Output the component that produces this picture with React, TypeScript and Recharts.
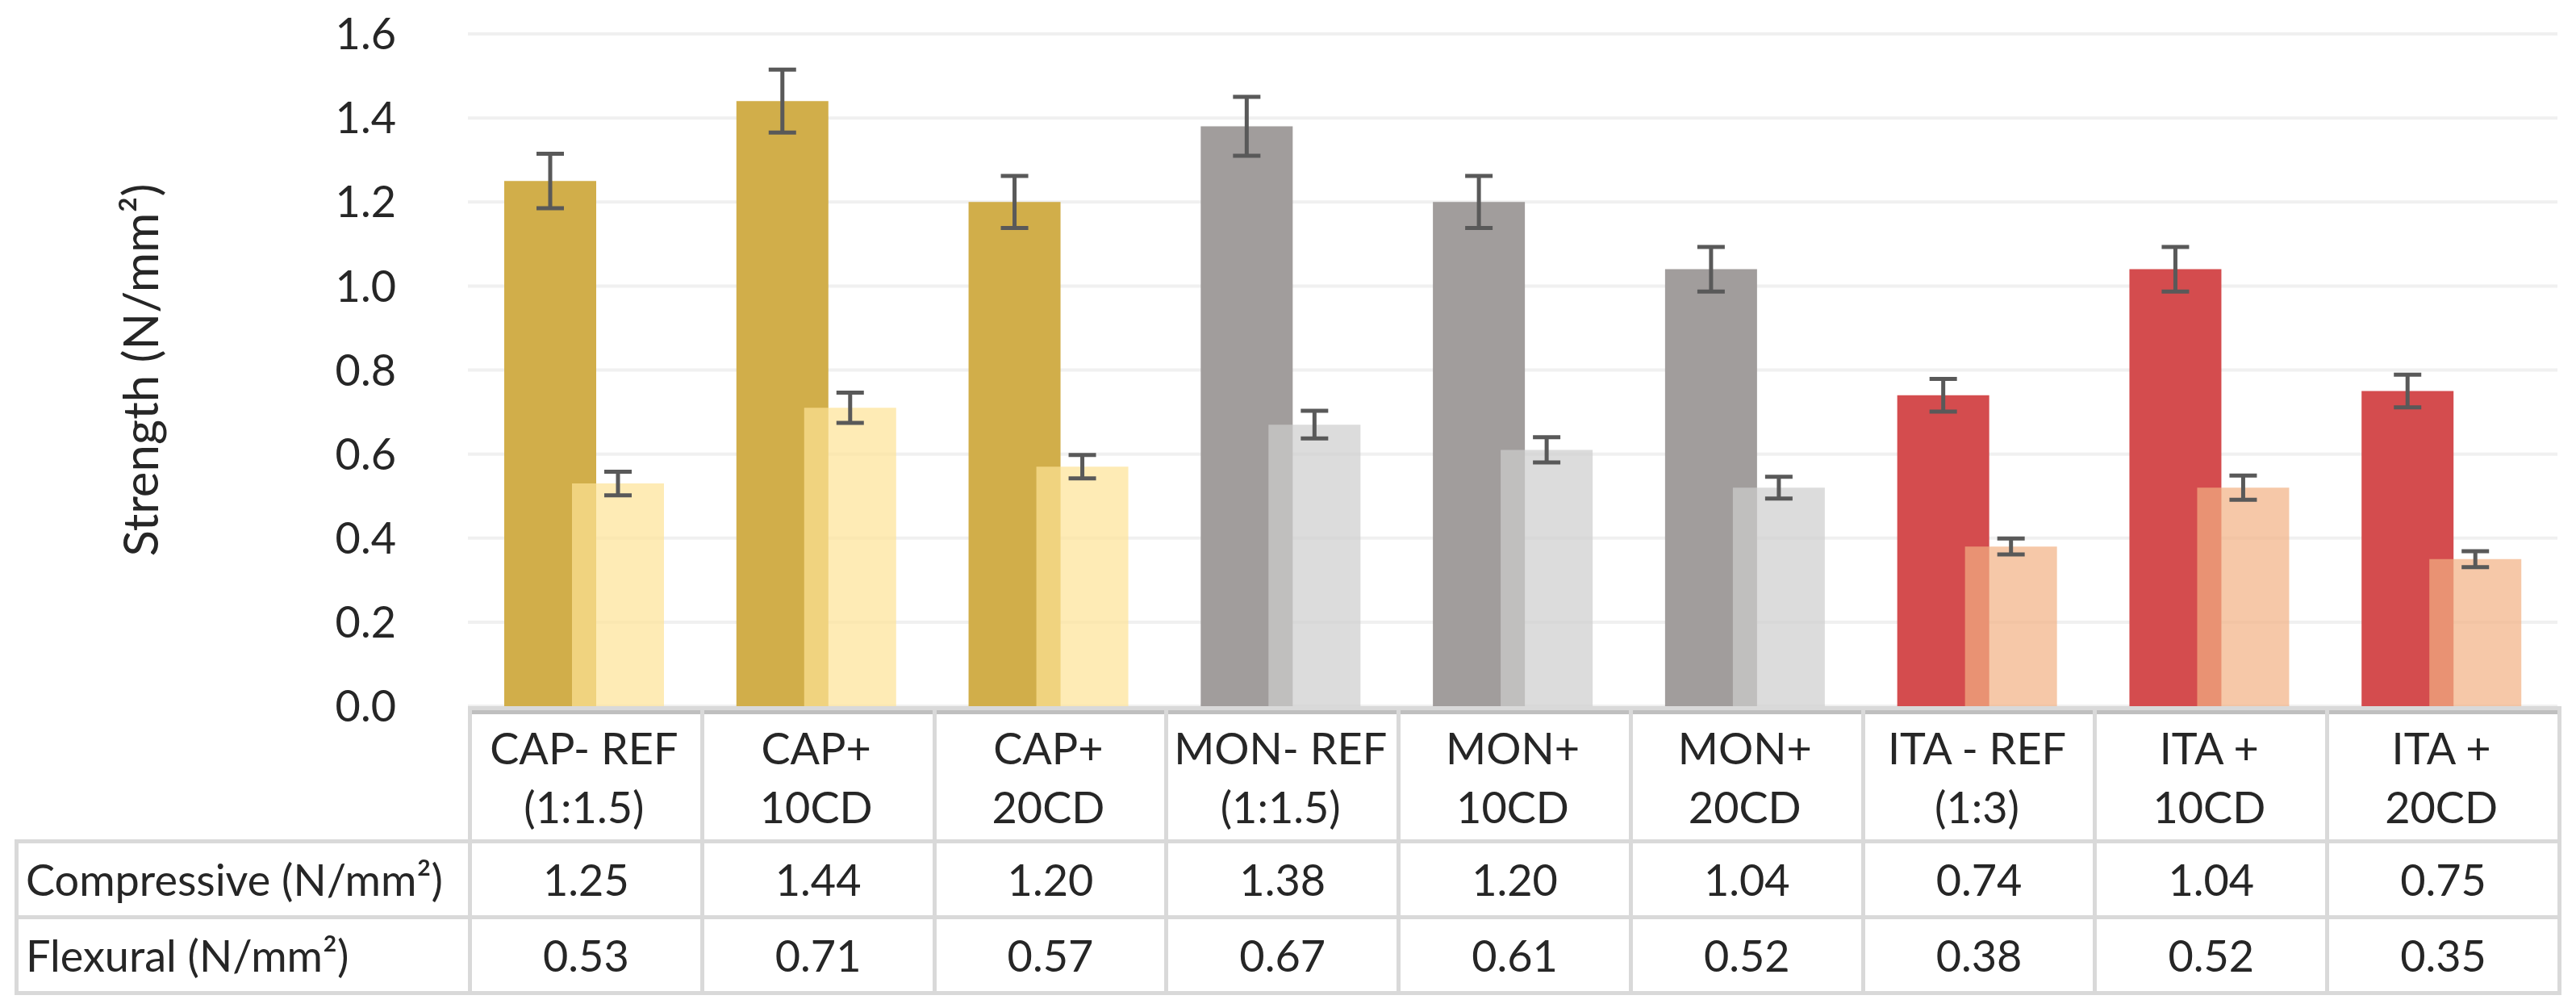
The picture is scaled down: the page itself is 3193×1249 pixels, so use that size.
import { BarChart, Bar, XAxis, YAxis, CartesianGrid, ErrorBar, Cell, Label } from 'recharts'

const categoryTop = ['CAP- REF', 'CAP+', 'CAP+', 'MON- REF', 'MON+', 'MON+', 'ITA - REF', 'ITA +', 'ITA +']
const categoryBottom = ['(1:1.5)', '10CD', '20CD', '(1:1.5)', '10CD', '20CD', '(1:3)', '10CD', '20CD']
const groups = ['CAP', 'CAP', 'CAP', 'MON', 'MON', 'MON', 'ITA', 'ITA', 'ITA']

const compressive = [1.25, 1.44, 1.2, 1.38, 1.2, 1.04, 0.74, 1.04, 0.75]
const flexural = [0.53, 0.71, 0.57, 0.67, 0.61, 0.52, 0.38, 0.52, 0.35]
const compressiveErr = [0.065, 0.075, 0.062, 0.07, 0.062, 0.053, 0.039, 0.053, 0.039]
const flexuralErr = [0.028, 0.036, 0.028, 0.033, 0.03, 0.026, 0.019, 0.029, 0.019]

const yTicks = [0, 0.2, 0.4, 0.6, 0.8, 1.0, 1.2, 1.4, 1.6]
const rowLabels = ['Compressive (N/mm²)', 'Flexural (N/mm²)']

const COMP_COLORS: Record<string, string> = { CAP: '#D1AE4A', MON: '#A19D9C', ITA: '#D44C4E' }
const FLEX_COLORS: Record<string, string> = { CAP: '#FEE295', MON: '#CDCDCD', ITA: '#F2B083' }

const W = 3193
const PLOT_LEFT = 580
const PLOT_RIGHT = 3170
const PLOT_TOP = 42
const PLOT_BOTTOM = 875
const CHART_PAD = 45
const HEADER_H = 165
const ROW_H = 94
const LABEL_LEFT = 18
const LINE = 5
const BORDER = '#D9D9D9'
const TEXT = '#262626'
const FONT = 54

const data = categoryTop.map((c, i) => ({
  name: `${c} ${categoryBottom[i]}`,
  group: groups[i],
  compressive: compressive[i],
  flexural: flexural[i],
  compErr: compressiveErr[i],
  flexErr: flexuralErr[i],
}))

function DataTable() {
  const pitch = (PLOT_RIGHT - PLOT_LEFT) / categoryTop.length
  const bottom = PLOT_BOTTOM + HEADER_H + ROW_H * 2
  const lines: JSX.Element[] = []

  // axis line under the plot
  lines.push(
    <div key="axis" style={{ position: 'absolute', left: PLOT_LEFT, top: PLOT_BOTTOM + LINE, width: PLOT_RIGHT - PLOT_LEFT, height: LINE, background: '#BFBFBF' }} />
  )
  lines.push(
    <div key="top" style={{ position: 'absolute', left: PLOT_LEFT, top: PLOT_BOTTOM, width: PLOT_RIGHT - PLOT_LEFT + LINE, height: LINE, background: BORDER }} />
  )
  ;[PLOT_BOTTOM + HEADER_H, PLOT_BOTTOM + HEADER_H + ROW_H, bottom].forEach((y, i) =>
    lines.push(
      <div key={`h${i}`} style={{ position: 'absolute', left: LABEL_LEFT, top: y, width: PLOT_RIGHT - LABEL_LEFT + LINE, height: LINE, background: BORDER }} />
    )
  )
  for (let i = 0; i <= categoryTop.length; i++) {
    lines.push(
      <div key={`v${i}`} style={{ position: 'absolute', left: PLOT_LEFT + i * pitch, top: PLOT_BOTTOM, width: LINE, height: bottom - PLOT_BOTTOM + LINE, background: BORDER }} />
    )
  }
  lines.push(
    <div key="vl" style={{ position: 'absolute', left: LABEL_LEFT, top: PLOT_BOTTOM + HEADER_H, width: LINE, height: ROW_H * 2 + LINE, background: BORDER }} />
  )

  const cellText = { position: 'absolute' as const, display: 'flex', alignItems: 'center', justifyContent: 'center', fontSize: FONT, color: TEXT, whiteSpace: 'nowrap' as const }

  return (
    <>
      {lines}
      {categoryTop.map((c, i) => (
        <div key={`c${i}`} style={{ ...cellText, left: PLOT_LEFT + i * pitch, top: PLOT_BOTTOM + LINE, width: pitch, height: HEADER_H, flexDirection: 'column', lineHeight: '73px' }}>
          <div>{c}</div>
          <div>{categoryBottom[i]}</div>
        </div>
      ))}
      {[compressive, flexural].map((row, r) => (
        <div key={`r${r}`}>
          <div style={{ ...cellText, justifyContent: 'flex-start', left: LABEL_LEFT + 14, top: PLOT_BOTTOM + HEADER_H + r * ROW_H + LINE, width: PLOT_LEFT - LABEL_LEFT - 14, height: ROW_H - LINE }}>
            {rowLabels[r]}
          </div>
          {row.map((v, i) => (
            <div key={i} style={{ ...cellText, left: PLOT_LEFT + i * pitch + LINE / 2, top: PLOT_BOTTOM + HEADER_H + r * ROW_H + LINE, width: pitch, height: ROW_H - LINE }}>
              {v.toFixed(2)}
            </div>
          ))}
        </div>
      ))}
    </>
  )
}

export default function App() {
  return (
    <div style={{ position: 'absolute', left: 0, top: 0, width: W, height: 1249, background: '#fff', fontFamily: 'Lato, sans-serif' }}>
      <BarChart
        width={W}
        height={PLOT_BOTTOM + CHART_PAD}
        data={data}
        margin={{ top: PLOT_TOP, right: W - PLOT_RIGHT, left: 0, bottom: CHART_PAD }}
        barSize={114}
        barGap={-30}
      >
        <CartesianGrid horizontal vertical={false} stroke="#F0F0F0" strokeWidth={4} />
        <XAxis dataKey="name" hide />
        <YAxis
          width={PLOT_LEFT}
          domain={[0, 1.6]}
          ticks={yTicks}
          interval={0}
          tickFormatter={(v: number) => v.toFixed(1)}
          axisLine={false}
          tickLine={false}
          tickSize={0}
          tickMargin={89}
          tick={{ fontSize: FONT, fill: TEXT }}
        >
          <Label
            value="Strength (N/mm²)"
            angle={-90}
            position="insideLeft"
            offset={175}
            style={{ textAnchor: 'middle', fontSize: 60, fill: TEXT }}
          />
        </YAxis>
        <Bar dataKey="compressive" isAnimationActive={false}>
          {data.map((d, i) => (
            <Cell key={i} fill={COMP_COLORS[d.group]} />
          ))}
          <ErrorBar dataKey="compErr" width={17} strokeWidth={5} stroke="#595959" direction="y" />
        </Bar>
        <Bar dataKey="flexural" isAnimationActive={false}>
          {data.map((d, i) => (
            <Cell key={i} fill={FLEX_COLORS[d.group]} fillOpacity={0.7} />
          ))}
          <ErrorBar dataKey="flexErr" width={17} strokeWidth={5} stroke="#595959" direction="y" />
        </Bar>
      </BarChart>
      <div style={{ position: 'absolute', left: 0, top: 0 }}>
        <DataTable />
      </div>
    </div>
  )
}
